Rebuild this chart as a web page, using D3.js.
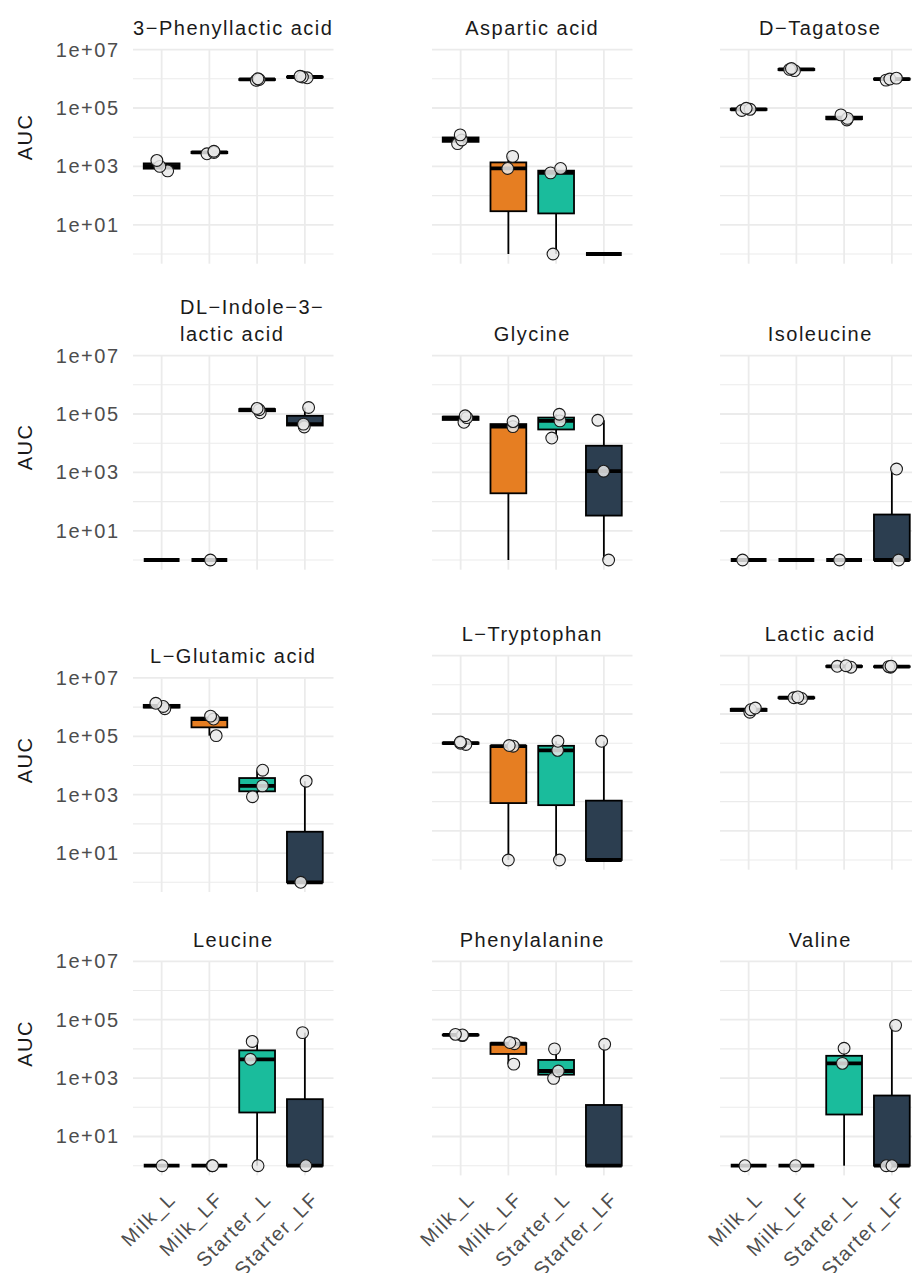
<!DOCTYPE html>
<html><head><meta charset="utf-8">
<script src="https://cdn.jsdelivr.net/npm/d3@7"></script>
<style>
body{margin:0;background:#fff}
svg{display:block}
text{font-family:"Liberation Sans",Arial,Helvetica,sans-serif;font-size:20px;letter-spacing:1.5px}
</style>
</head><body>
<svg id="chart" width="912" height="1273"></svg>
<script>
// ---------------- data ----------------
const categories = ["Milk_L", "Milk_LF", "Starter_L", "Starter_LF"];
const compounds = ["3−Phenyllactic acid", "Aspartic acid", "D−Tagatose",
  "DL−Indole−3−\nlactic acid", "Glycine", "Isoleucine",
  "L−Glutamic acid", "L−Tryptophan", "Lactic acid",
  "Leucine", "Phenylalanine", "Valine"];
// AUC per replicate (0 = not detected: not plotted as a point, box uses floor of 1)
const milkL = [
  [700, 1000, 1600], [6000, 8000, 12000], [82000, 90000, 98000],
  [0, 0, 0], [52000, 75000, 87000], [0, 0, 1],
  [880000, 1050000, 1350000], [9000, 10000, 11000], [115000, 140000, 160000],
  [0, 0, 1], [28500, 30000, 31500], [0, 0, 1]];
const milkLF = [
  [2700, 3000, 3300], [0, 850, 2200], [1900000, 2100000, 2250000],
  [0, 0, 1], [0, 37000, 55000], [0, 0, 0],
  [105000, 390000, 490000], [1, 7900, 8300], [340000, 360000, 385000],
  [0, 1, 1], [3000, 15000, 16500], [0, 0, 1]];
const starterL = [
  [880000, 950000, 1000000], [1, 600, 850], [39000, 44000, 58000],
  [110000, 140000, 155000], [15000, 58000, 98000], [0, 0, 1],
  [850, 2000, 6900], [1, 5700, 11600], [4000000, 4300000, 4500000],
  [1, 4400, 18000], [980, 1750, 10000], [0, 3200, 10500]];
const starterLF = [
  [1080000, 1150000, 1220000], [0, 0, 0], [900000, 980000, 1050000],
  [36000, 45000, 167000], [1, 1100, 61000], [0, 1, 1300],
  [0, 1, 2900], [0, 0, 11600], [4000000, 4200000, 4350000],
  [0, 1, 36000], [0, 0, 14400], [1, 1, 64000]];
const yMajorTicks = [1e1, 1e3, 1e5, 1e7];
const yTickLabels = ["1e+01", "1e+03", "1e+05", "1e+07"];
const yMinorTicks = [1e0, 1e2, 1e4, 1e6];
const yTitle = "AUC";
const groupColors = ["#1b1b1b", "#E67E22", "#1ABC9C", "#2C3E50"];

// ---------------- layout ----------------
const colLeft = [133, 432, 720];
const panelW = 200.5;
const panelTops = [
  [50.0, 50.0, 50.0],
  [356.0, 356.0, 356.0],
  [678.3, 656.0, 656.0],
  [961.7, 961.7, 961.7]];
const yTitleCenters = [137, 447, 760, 1043.5];

const seriesByGroup = [milkL, milkLF, starterL, starterLF];
const floor1 = v => Math.max(v, 1);
const allLogs = seriesByGroup.flat(2).map(v => Math.log10(floor1(v)));
const lmin = Math.min(0, d3.min(allLogs)), lmax = d3.max(allLogs);
const ex = (lmax - lmin) * 0.05;
const yDomain = [Math.pow(10, lmin - ex), Math.pow(10, lmax + ex)];
const decadePx = 29.2;
const panelH = (lmax - lmin + 2 * ex) * decadePx;

const svg = d3.select("#chart");
const gridCol = "#ebebeb";

function jit(p, g, i) {
  const s = Math.sin((p * 31 + g * 7 + i * 3 + 1) * 12.9898) * 43758.5453;
  return (s - Math.floor(s) - 0.5) * 0.3;
}

compounds.forEach((name, p) => {
  const row = Math.floor(p / 3), col = p % 3;
  const left = colLeft[col], top = panelTops[row][col];
  const x = d3.scalePoint().domain(categories).range([left, left + panelW]).padding(0.6);
  const y = d3.scaleLog().domain(yDomain).range([top + panelH, top]);
  const step = x.step();
  const bw = step * 0.75;
  const g = svg.append("g");

  // grid
  g.selectAll(".minor").data(yMinorTicks).join("line")
    .attr("x1", left).attr("x2", left + panelW)
    .attr("y1", d => y(d)).attr("y2", d => y(d))
    .attr("stroke", gridCol).attr("stroke-width", 1.1);
  g.selectAll(".major").data(yMajorTicks).join("line")
    .attr("x1", left).attr("x2", left + panelW)
    .attr("y1", d => y(d)).attr("y2", d => y(d))
    .attr("stroke", gridCol).attr("stroke-width", 1.8);
  g.selectAll(".vx").data(categories).join("line")
    .attr("x1", d => x(d)).attr("x2", d => x(d))
    .attr("y1", top).attr("y2", top + panelH)
    .attr("stroke", gridCol).attr("stroke-width", 1.8);

  // y axis labels on first column
  if (col === 0) {
    g.selectAll(".yt").data(yMajorTicks).join("text")
      .attr("x", left - 13.5).attr("y", d => y(d))
      .attr("text-anchor", "end").attr("dominant-baseline", "central")
      .attr("fill", "#4d4d4d")
      .text((d, i) => yTickLabels[i]);
    svg.append("text")
      .attr("transform", `translate(25,${yTitleCenters[row]}) rotate(-90)`)
      .attr("text-anchor", "middle").attr("dominant-baseline", "central")
      .attr("fill", "#1a1a1a").text(yTitle);
  }

  // title
  const lines = name.split("\n");
  if (lines.length === 1) {
    g.append("text").attr("x", left + panelW / 2).attr("y", top - 15)
      .attr("text-anchor", "middle").attr("fill", "#1a1a1a").text(name);
  } else {
    lines.forEach((ln, k) => {
      g.append("text").attr("x", left + 47)
        .attr("y", top - 15 - (lines.length - 1 - k) * 27.3)
        .attr("text-anchor", "start").attr("fill", "#1a1a1a").text(ln);
    });
  }

  // boxes
  categories.forEach((cat, gi) => {
    const vals = seriesByGroup[gi][p];
    const logs = vals.map(v => Math.log10(floor1(v))).sort(d3.ascending);
    const q1 = d3.quantileSorted(logs, 0.25), med = d3.quantileSorted(logs, 0.5), q3 = d3.quantileSorted(logs, 0.75);
    const iqr = q3 - q1;
    const lo = d3.min(logs.filter(v => v >= q1 - 1.5 * iqr));
    const hi = d3.max(logs.filter(v => v <= q3 + 1.5 * iqr));
    const py = l => y(Math.pow(10, l));
    const cx = x(cat);
    g.append("line").attr("x1", cx).attr("x2", cx).attr("y1", py(lo)).attr("y2", py(q1))
      .attr("stroke", "#000").attr("stroke-width", 1.8);
    g.append("line").attr("x1", cx).attr("x2", cx).attr("y1", py(q3)).attr("y2", py(hi))
      .attr("stroke", "#000").attr("stroke-width", 1.8);
    g.append("rect").attr("x", cx - bw / 2).attr("width", bw)
      .attr("y", py(q3)).attr("height", py(q1) - py(q3))
      .attr("fill", groupColors[gi]).attr("stroke", "#000").attr("stroke-width", 1.8);
    g.append("line").attr("x1", cx - bw / 2).attr("x2", cx + bw / 2)
      .attr("y1", py(med)).attr("y2", py(med))
      .attr("stroke", "#000").attr("stroke-width", 3.8);
  });

  // points
  categories.forEach((cat, gi) => {
    const vals = seriesByGroup[gi][p];
    vals.forEach((v, i) => {
      if (v <= 0) return;
      g.append("circle")
        .attr("cx", x(cat) + jit(p, gi, i) * step)
        .attr("cy", y(v)).attr("r", 5.9)
        .attr("fill", "#e9e9e9").attr("fill-opacity", 0.85)
        .attr("stroke", "#1a1a1a").attr("stroke-width", 1.1);
    });
  });

  // x labels on bottom row
  if (row === 3) {
    g.selectAll(".xt").data(categories).join("text")
      .attr("transform", d => `translate(${x(d) + 5},${top + panelH + 15}) rotate(-45)`)
      .attr("text-anchor", "end").attr("dy", "0.72em")
      .attr("fill", "#4d4d4d").text(d => d);
  }
});
</script>
</body></html>
